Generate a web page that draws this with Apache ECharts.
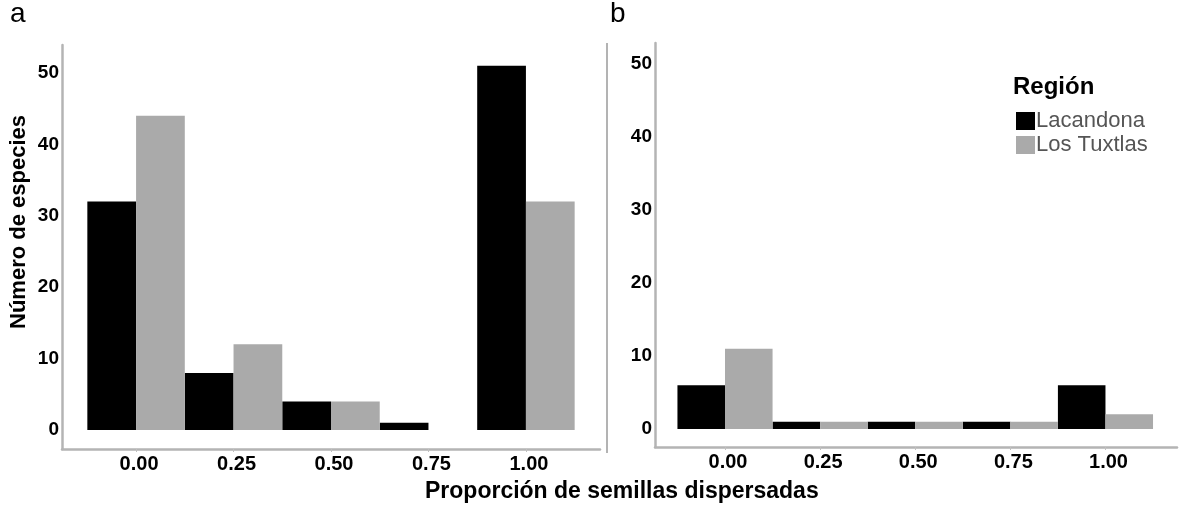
<!DOCTYPE html>
<html>
<head>
<meta charset="utf-8">
<script src="https://cdn.jsdelivr.net/npm/echarts@6/dist/echarts.min.js"></script>
<style>
  html, body { margin: 0; padding: 0; background: #fff; }
  #chart { width: 1179px; height: 507px; }
</style>
</head>
<body>
<div id="chart"></div>
<script>
// datos
var proporciones = [0, 0.25, 0.5, 0.75, 1];
var yTicks = [0, 10, 20, 30, 40, 50];
var lacandonaA = [32, 8, 4, 1, 51];
var tuxtlasA = [44, 12, 4, 0, 32];
var lacandonaB = [6, 1, 1, 1, 6];
var tuxtlasB = [11, 1, 1, 1, 2];

var FONT = "'Liberation Sans', Arial, sans-serif";
var NEGRO = '#000000', GRIS = '#aaaaaa';

function pares(vals) { // [x, y] para eje de valores
    return proporciones.map(function(p, i) { return [p, vals[i]]; });
}

function ejeX(idx, min, max) {
    return {
        type: 'value', gridIndex: idx, min: min, max: max,
        axisLine: { show: true, onZero: false, lineStyle: { color: '#b4b4b4', width: 2.5 } },
        axisTick: { show: true, customValues: proporciones, length: 3, lineStyle: { color: '#c0c0c0' } },
        axisLabel: {
            customValues: proporciones, margin: 5, padding: [0, 0, 0, 6],
            fontFamily: FONT, fontWeight: 'bold', fontSize: 20, color: '#000',
            formatter: function(v) { return v.toFixed(2); }
        },
        splitLine: { show: false }
    };
}

function ejeY(idx, min, max) {
    return {
        type: 'value', gridIndex: idx, min: min, max: max,
        axisLine: { show: true, onZero: false, lineStyle: { color: '#b4b4b4', width: 2.5 } },
        axisTick: { show: false },
        axisLabel: {
            customValues: yTicks, margin: 3,
            fontFamily: FONT, fontWeight: 'bold', fontSize: 19, color: '#000'
        },
        splitLine: { show: false }
    };
}

function barras(name, vals, idx, color) {
    return {
        type: 'bar', name: name, xAxisIndex: idx, yAxisIndex: idx,
        data: pares(vals), barGap: '0%', barCategoryGap: '0%',
        itemStyle: { color: color }
    };
}

var chart = echarts.init(document.getElementById('chart'));
var option = {
    animation: false,
    color: [NEGRO, GRIS],
    grid: [
        { left: 62, top: 45, width: 538, height: 404 },
        { left: 655, top: 43, width: 522, height: 404 }
    ],
    xAxis: [ejeX(0, -0.19, 1.19), ejeX(1, -0.184, 1.188)],
    yAxis: [ejeY(0, -2.66, 53.92), ejeY(1, -2.47, 52.88)],
    legend: {
        orient: 'vertical', left: 1011, top: 105,
        icon: 'rect', itemWidth: 19, itemHeight: 18, itemGap: 2,
        data: ['Lacandona', 'Los Tuxtlas'],
        textStyle: { fontFamily: FONT, fontSize: 22, lineHeight: 18, color: '#555', padding: [0, 0, 0, -4] }
    },
    graphic: [
        { type: 'text', left: 10, top: 0, style: { text: 'a', font: '28px ' + FONT, fill: '#000' } },
        { type: 'text', left: 610, top: 0, style: { text: 'b', font: '28px ' + FONT, fill: '#000' } },
        { type: 'line', shape: { x1: 607, y1: 43, x2: 607, y2: 453 }, style: { stroke: '#9a9a9a', lineWidth: 1.5 } },
        {
            type: 'text', x: 19, y: 222, rotation: Math.PI / 2,
            style: { text: 'Número de especies', font: 'bold 22px ' + FONT, fill: '#000', align: 'center', verticalAlign: 'middle' }
        },
        {
            type: 'text', x: 425, y: 492,
            style: { text: 'Proporción de semillas dispersadas', font: 'bold 23px ' + FONT, fill: '#000', align: 'left', verticalAlign: 'middle' }
        },
        {
            type: 'text', x: 1013, y: 87,
            style: { text: 'Región', font: 'bold 24px ' + FONT, fill: '#000', align: 'left', verticalAlign: 'middle' }
        }
    ],
    series: [
        barras('Lacandona', lacandonaA, 0, NEGRO),
        barras('Los Tuxtlas', tuxtlasA, 0, GRIS),
        barras('Lacandona', lacandonaB, 1, NEGRO),
        barras('Los Tuxtlas', tuxtlasB, 1, GRIS)
    ]
};
chart.setOption(option);
</script>
</body>
</html>
